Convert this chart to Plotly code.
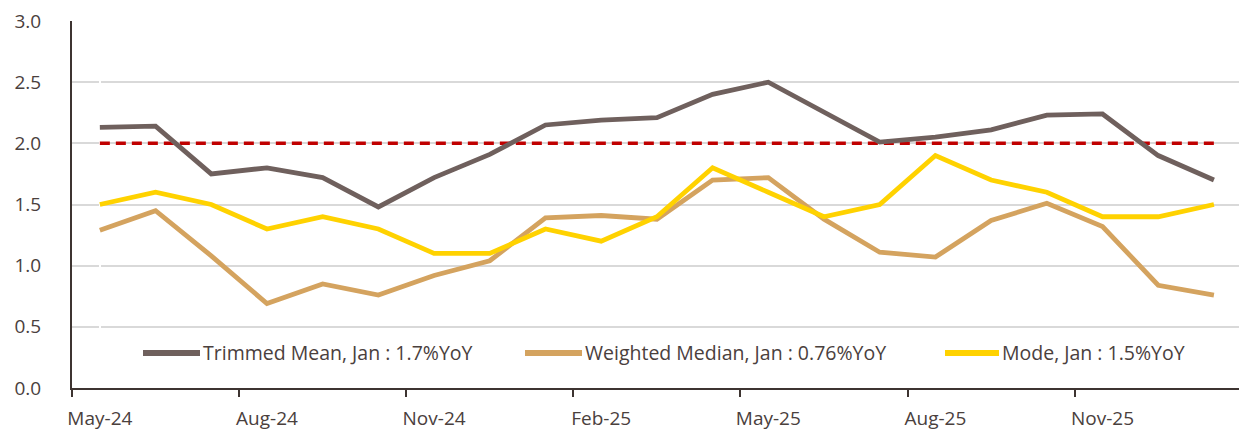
import plotly.graph_objects as go

months = ["May-24", "Jun-24", "Jul-24", "Aug-24", "Sep-24", "Oct-24", "Nov-24", "Dec-24",
          "Jan-25", "Feb-25", "Mar-25", "Apr-25", "May-25", "Jun-25", "Jul-25", "Aug-25",
          "Sep-25", "Oct-25", "Nov-25", "Dec-25", "Jan-26"]
trimmed_mean = [2.13, 2.14, 1.75, 1.80, 1.72, 1.48, 1.72, 1.91, 2.15, 2.19, 2.21, 2.40, 2.50,
                2.26, 2.01, 2.05, 2.11, 2.23, 2.24, 1.90, 1.70]
weighted_median = [1.29, 1.45, 1.08, 0.69, 0.85, 0.76, 0.92, 1.04, 1.39, 1.41, 1.38, 1.70, 1.72,
                   1.38, 1.11, 1.07, 1.37, 1.51, 1.32, 0.84, 0.76]
mode = [1.5, 1.6, 1.5, 1.3, 1.4, 1.3, 1.1, 1.1, 1.3, 1.2, 1.4, 1.8, 1.6, 1.4, 1.5, 1.9, 1.7,
        1.6, 1.4, 1.4, 1.5]
target = [2.0] * len(months)

series_names = ["Trimmed Mean, Jan : 1.7%YoY", "Weighted Median, Jan : 0.76%YoY", "Mode, Jan : 1.5%YoY"]
colors = ["#6f605d", "#d4a35f", "#ffd200"]
label_step = 3

TEXT = "#4a403d"
FONT = "Open Sans"
FS_TICK, FS_LEG = 19, 19.5
W, H = 1239, 434
ML, MR, MT, MB = 72, 0, 21, 46
PW, PH = W - ML - MR, H - MT - MB

x = list(range(len(months)))
fig = go.Figure()
fig.add_trace(go.Scatter(x=x, y=target, mode="lines", name="Target",
                         line=dict(color="#c00000", width=3.5, dash="10px,6px"), showlegend=False))
for name, vals, c in zip(series_names, [trimmed_mean, weighted_median, mode], colors):
    fig.add_trace(go.Scatter(x=x, y=vals, mode="lines", name=name,
                             line=dict(color=c, width=4.8), showlegend=False))

# custom legend (long line samples)
def px_x(p):
    return (p - ML) / PW

def px_y(p):
    return (H - MB - p) / PH

legend_items = [(143, 200, 201), (525, 582, 583), (945, 999, 1000)]
shapes, annotations = [], []
for (x0, x1, xt), name, c in zip(legend_items, series_names, colors):
    shapes.append(dict(type="line", xref="paper", yref="paper", x0=px_x(x0), x1=px_x(x1),
                       y0=px_y(353), y1=px_y(353), line=dict(color=c, width=6)))
    annotations.append(dict(text=name, xref="paper", yref="paper", x=px_x(xt), y=px_y(352),
                            xanchor="left", yanchor="middle", showarrow=False,
                            font=dict(family=FONT, size=FS_LEG, color=TEXT)))

fig.update_layout(
    width=W, height=H, margin=dict(l=ML, r=MR, t=MT, b=MB),
    paper_bgcolor="white", plot_bgcolor="white",
    shapes=shapes, annotations=annotations,
    xaxis=dict(range=[-0.5, len(months) - 0.55], tickvals=x[::label_step],
               ticktext=months[::label_step], ticks="", showgrid=False, automargin=False,
               showline=True, linecolor="#3d3431", linewidth=2, ticklabelstandoff=12,
               tickfont=dict(family=FONT, size=FS_TICK, color=TEXT),
               minor=dict(tickvals=[i - 0.5 for i in x[::label_step]], ticks="outside",
                          ticklen=7, tickwidth=2, tickcolor="#3d3431", showgrid=False)),
    yaxis=dict(range=[0, 3], dtick=0.5, tickformat=".1f", showgrid=True, gridcolor="#d9d9d9",
               gridwidth=1.5, showline=True, linecolor="#3d3431", linewidth=2, zeroline=False,
               ticks="", ticklabelstandoff=25, automargin=False,
               tickfont=dict(family=FONT, size=FS_TICK, color=TEXT)),
)
fig.write_html("out.html", config={"displayModeBar": False},
               post_script="document.body.style.margin='0';")
